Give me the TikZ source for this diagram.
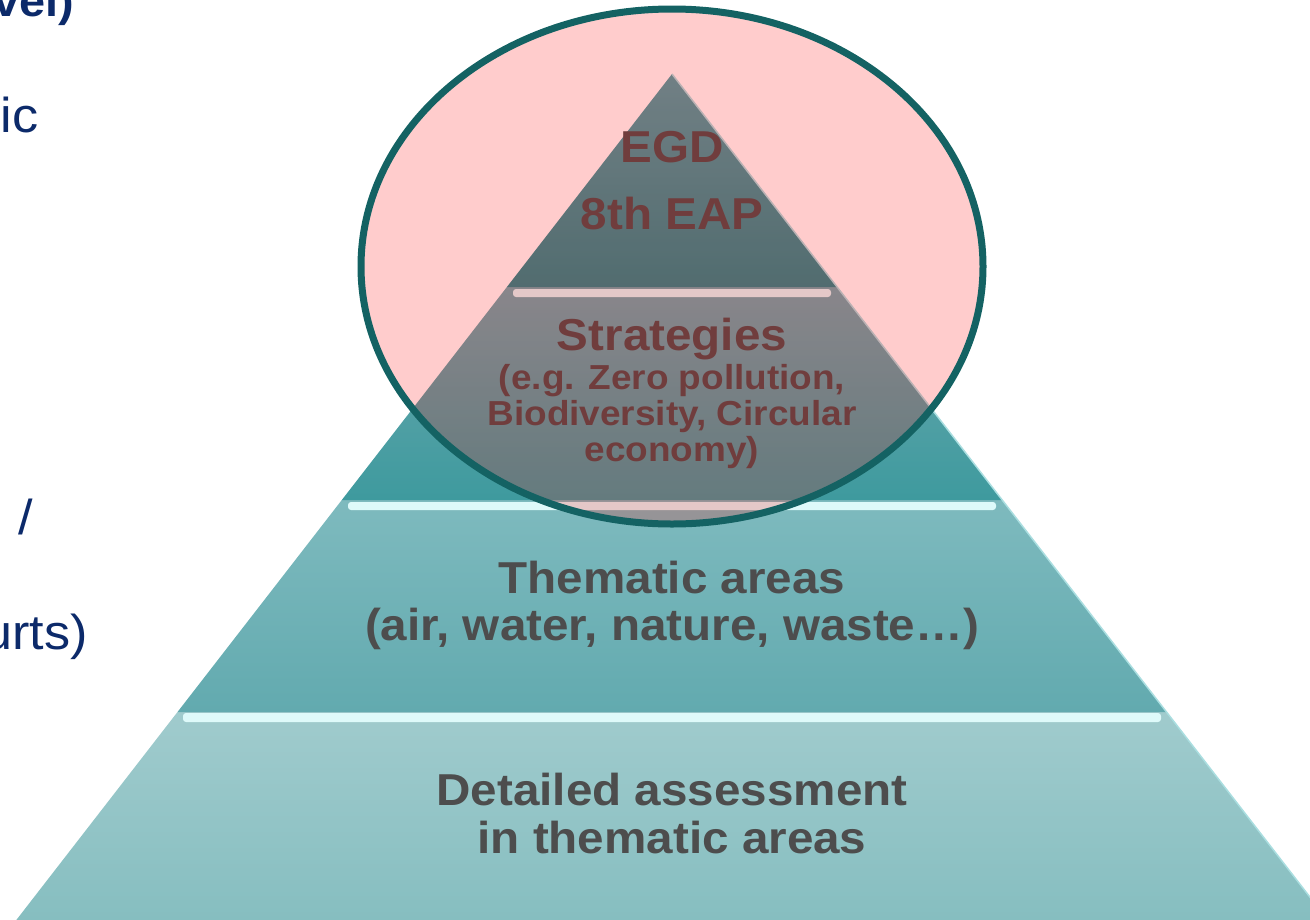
\documentclass[tikz,border=0pt]{standalone}
\usepackage{fontspec}
\setmainfont{Liberation Sans}[FakeStretch=1.065]
\definecolor{navy}{HTML}{0C2A6A}
\definecolor{txtgrey}{HTML}{4D4D4D}
\definecolor{ellstroke}{RGB}{20,98,99}
\definecolor{aT}{RGB}{78,160,166}
\definecolor{aB}{RGB}{38,136,140}
\definecolor{bT}{RGB}{108,168,174}
\definecolor{bB}{RGB}{62,154,158}
\definecolor{cT}{RGB}{126,186,190}
\definecolor{cB}{RGB}{98,170,175}
\definecolor{dT}{RGB}{160,203,205}
\definecolor{dB}{RGB}{132,189,191}
\definecolor{hlc}{RGB}{222,250,250}
\definecolor{bevel}{RGB}{170,222,224}
\tikzset{
  bigtxt/.style={text=txtgrey, inner sep=0pt, anchor=base, font=\fontsize{44.7}{48}\selectfont\bfseries},
  smalltxt/.style={text=txtgrey, inner sep=0pt, anchor=base, font=\fontsize{34.7}{37}\selectfont\bfseries},
  sidetxt/.style={text=navy, inner sep=0pt, anchor=base east, font=\fontsize{49}{54}\selectfont},
  hlbar/.style={fill=hlc, rounded corners=3pt},
  bevelline/.style={draw=bevel, line width=1.5pt},
}
\begin{document}
\begin{tikzpicture}[x=1pt,y=1pt]
\useasboundingbox (0,0) rectangle (1310,-919);
\clip (0,0) rectangle (1310,-919);
% pyramid geometry
\coordinate (apex) at (672,-74);
\coordinate (l1) at (506.9,-287);  \coordinate (r1) at (837.1,-287);
\coordinate (l2) at (341.8,-500);  \coordinate (r2) at (1002.2,-500);
\coordinate (l3) at (177.5,-712);  \coordinate (r3) at (1166.5,-712);
\coordinate (l4) at (4.7,-935);    \coordinate (r4) at (1339.3,-935);
% bands
\shade[top color=dT, bottom color=dB] (l3) -- (r3) -- (r4) -- (l4) -- cycle;
\shade[top color=cT, bottom color=cB] (l2) -- (r2) -- (r3) -- (l3) -- cycle;
\shade[top color=bT, bottom color=bB] (l1) -- (r1) -- (r2) -- (l2) -- cycle;
\shade[top color=aT, bottom color=aB] (apex) -- (r1) -- (l1) -- cycle;
% bevel edges
\draw[bevelline] (apex) -- (r1);
\draw[bevelline] (r1) -- (r2);
\draw[bevelline] (r2) -- (r3);
\draw[bevelline] (r3) -- (r4);
% highlight bars
\fill[hlbar] (513,-289) rectangle (831,-297);
\fill[hlbar] (348,-502) rectangle (996,-510);
\fill[hlbar] (183,-713) rectangle (1161,-722);
% pyramid texts
\node[bigtxt] (egd) at (672,-162) {EGD};
\node[bigtxt] (eap) at (672,-229) {8th EAP};
\node[bigtxt] (strat) at (672,-350) {Strategies};
\node[smalltxt] (s1) at (672,-389) {(e.g. Zero pollution,};
\node[smalltxt] (s2) at (672,-425) {Biodiversity, Circular};
\node[smalltxt] (s3) at (672,-461) {economy)};
\node[bigtxt] (them1) at (672,-593) {Thematic areas};
\node[bigtxt] (them2) at (672,-640) {(air, water, nature, waste…)};
\node[bigtxt] (det1) at (672,-805) {Detailed assessment};
\node[bigtxt] (det2) at (672,-853) {in thematic areas};
% left fragments of slide text
\node[sidetxt, font=\fontsize{44}{50}\selectfont\bfseries] (t1) at (74,-16) {vel)};
\node[sidetxt] (t2) at (38.5,-132) {ic};
\node[sidetxt] (t3) at (33,-534) {n /};
\node[sidetxt] (t4) at (88,-649) {urts)};
% translucent ellipse overlay
\draw[draw=ellstroke, line width=7pt, fill=red, fill opacity=0.2] (672,-266.5) ellipse [x radius=311pt, y radius=257.5pt];
\end{tikzpicture}
\end{document}
